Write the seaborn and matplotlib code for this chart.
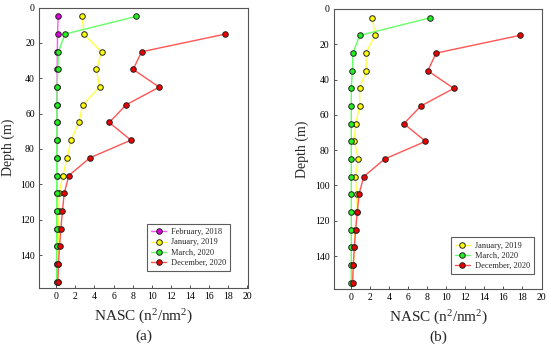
import pandas as pd
import matplotlib
matplotlib.use("Agg")
import matplotlib.pyplot as plt
import seaborn as sns

depth = [5, 15, 25, 35, 45, 55, 65, 75, 85, 95, 105, 115, 125, 135, 145, 155]

feb_2018 = [0.2, 0.14, 0.12, 0.1, 0.1, 0.08, 0.08, 0.07, 0.07, 0.06, 0.06, 0.05, 0.05, 0.05, 0.05, 0.05]
jan_2019_a = [2.72, 2.9, 4.75, 4.22, 4.54, 2.79, 2.37, 1.54, 1.15, 0.7, 0.31, 0.3, 0.25, 0.22, 0.2, 0.15]
mar_2020_a = [8.38, 0.91, 0.24, 0.17, 0.1, 0.07, 0.07, 0.06, 0.06, 0.05, 0.05, 0.05, 0.05, 0.05, 0.05, 0.05]
dec_2020 = [None, 17.7, 8.94, 8.06, 10.78, 7.33, 5.55, 7.82, 3.53, 1.33, 0.84, 0.66, 0.49, 0.35, 0.24, 0.17]

jan_2019_b = [2.24, 2.52, 1.57, 1.6, 0.91, 0.91, 0.49, 0.35, 0.77, 0.45, 0.6, 0.66, 0.42, 0.35, 0.25, 0.15]
mar_2020_b = [8.32, 0.91, 0.21, 0.14, 0.03, 0.03, 0.03, 0.03, 0.03, 0.03, 0.03, 0.03, 0.03, 0.03, 0.03, 0.03]

xticks = list(range(0, 21, 2))
yticks = [0, 20, 40, 60, 80, 100, 120, 140]

styles = {
    "February, 2018": ("#ff55ff", "#dd00dd"),
    "January, 2019": ("#ffff44", "#ffff00"),
    "March, 2020": ("#66ff66", "#22ee22"),
    "December, 2020": ("#ff5555", "#ee0000"),
}

sns.set_style("ticks")
plt.rcParams["font.family"] = ["Liberation Serif", "DejaVu Serif"]
plt.rcParams["mathtext.fontset"] = "custom"
plt.rcParams["mathtext.rm"] = "Liberation Serif"
plt.rcParams["mathtext.it"] = "Liberation Serif:italic"


def draw_panel(ax, series, tag, leg_anchor):
    for name, vals in series.items():
        df = pd.DataFrame({"depth": depth, "nasc": vals}).dropna()
        line_c, face_c = styles[name]
        sns.lineplot(data=df, x="nasc", y="depth", sort=False, estimator=None,
                     ax=ax, color=line_c, lw=1.0, marker="o", markersize=4,
                     markerfacecolor=face_c, markeredgecolor="#222222",
                     markeredgewidth=0.7, label=name)
    ax.set_xlim(-1.8, 20.08)
    ax.set_ylim(158.6, 0)
    ax.set_xticks(xticks)
    ax.set_yticks(yticks)
    ax.tick_params(direction="in", length=2, width=0.6, labelsize=7, pad=3,
                   colors="#333333", labelcolor="black")
    for s in ax.spines.values():
        s.set_color("#555555")
        s.set_linewidth(0.8)
    ax.set_ylabel("Depth (m)", fontsize=10)
    ax.set_xlabel("NASC (n$^2$/nm$^2$)\n(" + tag + ")",
                  fontsize=11, linespacing=1.3, labelpad=5)
    leg = ax.legend(loc="lower right", bbox_to_anchor=leg_anchor, fontsize=6,
                    frameon=True, fancybox=False, handlelength=1.7,
                    handletextpad=0.6, borderpad=0.5, labelspacing=0.25,
                    borderaxespad=0)
    leg.get_frame().set_edgecolor("#333333")
    leg.get_frame().set_linewidth(0.8)


fig = plt.figure(figsize=(5.5, 3.44), dpi=100)
ax1 = fig.add_axes([0.0709, 0.163, 0.38, 0.815])
ax2 = fig.add_axes([0.607, 0.160, 0.379, 0.814])

draw_panel(ax1, {
    "February, 2018": feb_2018,
    "January, 2019": jan_2019_a,
    "March, 2020": mar_2020_a,
    "December, 2020": dec_2020,
}, "a", (0.914, 0.061))
draw_panel(ax2, {
    "January, 2019": jan_2019_b,
    "March, 2020": mar_2020_b,
    "December, 2020": dec_2020,
}, "b", (0.96, 0.054))

fig.savefig("out.png", dpi=100)
